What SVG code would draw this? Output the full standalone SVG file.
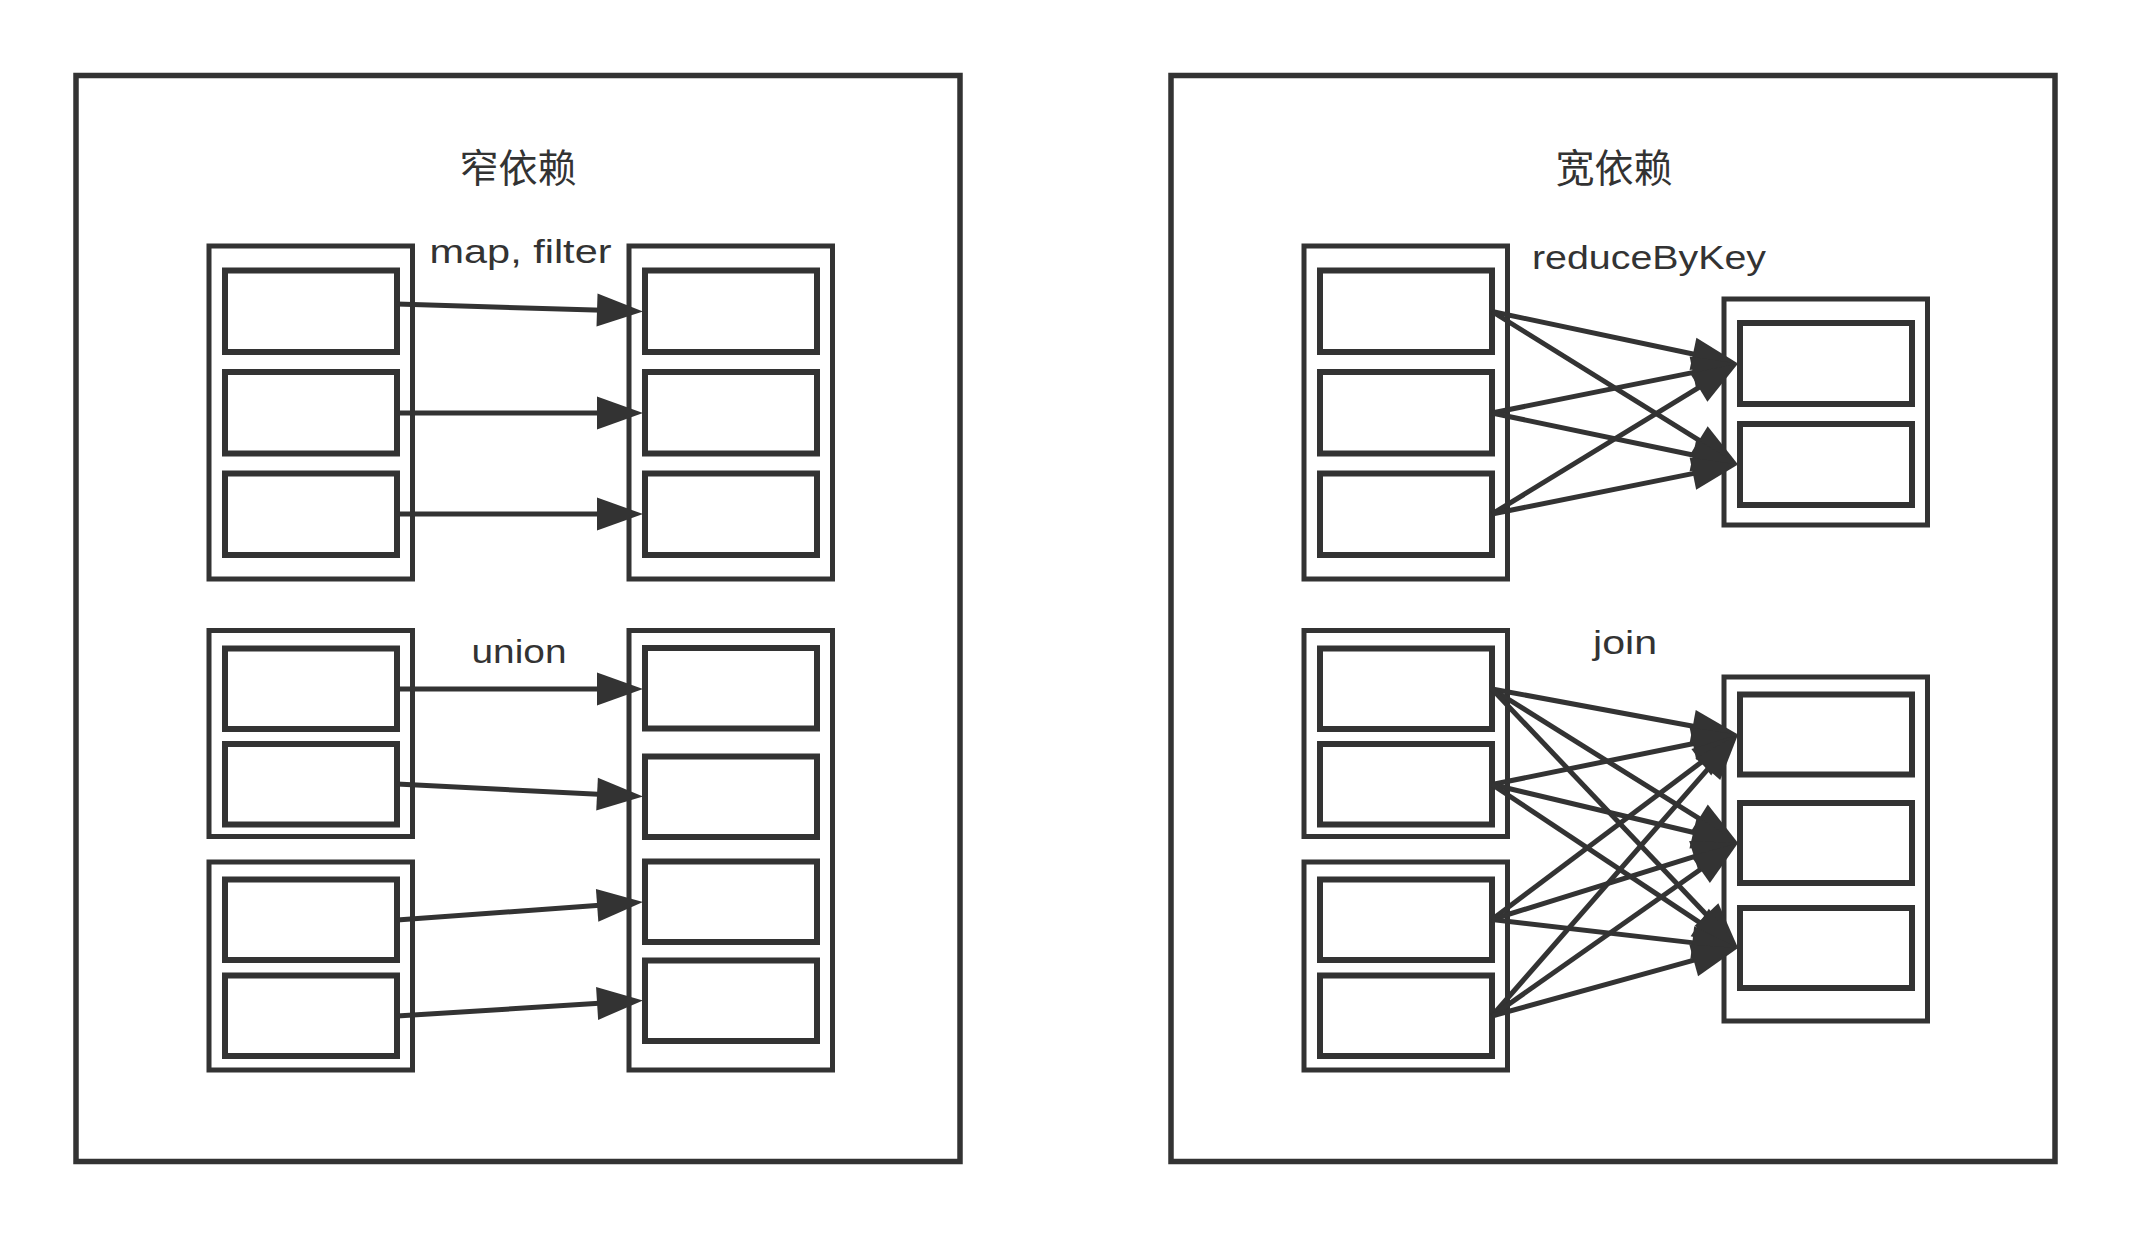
<svg xmlns="http://www.w3.org/2000/svg" width="2130" height="1236" viewBox="0 0 2130 1236">
  <style>
    .panel { fill: #ffffff; stroke: #333333; stroke-width: 5.5; }
    .cont { fill: #ffffff; stroke: #333333; stroke-width: 5; }
    .part { fill: #ffffff; stroke: #333333; stroke-width: 6; }
    .edge { fill: none; stroke: #333333; stroke-width: 5; marker-end: url(#arr); }
    .title { font-family: "Noto Sans CJK SC", "Noto Sans", sans-serif; font-size: 39px; fill: #333333; text-anchor: middle; }
    .lbl { font-family: "Liberation Sans", Arial, sans-serif; font-size: 33px; fill: #333333; text-anchor: middle; }
  </style>
  <defs>
    <marker id="arr" markerUnits="userSpaceOnUse" markerWidth="46" markerHeight="33" refX="6" refY="16.5" orient="auto" overflow="visible">
      <path d="M0,0 L46,16.5 L0,33 Z" fill="#333333"/>
    </marker>
  </defs>
  <rect x="0" y="0" width="2130" height="1236" fill="#ffffff"/>

  <g id="panel-narrow">
    <rect class="panel" x="76" y="75.5" width="884" height="1086"/>
    <text class="title" x="518" y="182">窄依赖</text>
  </g>
  <g id="panel-wide">
    <rect class="panel" x="1171" y="75.5" width="884" height="1086"/>
    <text class="title" x="1614" y="182">宽依赖</text>
  </g>

  <!-- narrow: map, filter -->
  <g id="map-src">
    <rect class="cont" x="209" y="246" width="203.5" height="333"/>
    <rect class="part" x="225" y="270.5" width="172" height="81.5"/>
    <rect class="part" x="225" y="372" width="172" height="81.5"/>
    <rect class="part" x="225" y="473.5" width="172" height="81.5"/>
  </g>
  <g id="map-dst">
    <rect class="cont" x="629" y="246" width="203.5" height="333"/>
    <rect class="part" x="645" y="270.5" width="172" height="81.5"/>
    <rect class="part" x="645" y="372" width="172" height="81.5"/>
    <rect class="part" x="645" y="473.5" width="172" height="81.5"/>
  </g>

  <!-- narrow: union -->
  <g id="union-src1">
    <rect class="cont" x="209" y="630.5" width="203.5" height="206"/>
    <rect class="part" x="225" y="648.5" width="172" height="80.5"/>
    <rect class="part" x="225" y="744" width="172" height="80.5"/>
  </g>
  <g id="union-src2">
    <rect class="cont" x="209" y="862" width="203.5" height="208"/>
    <rect class="part" x="225" y="879.5" width="172" height="80.5"/>
    <rect class="part" x="225" y="975.5" width="172" height="80.5"/>
  </g>
  <g id="union-dst">
    <rect class="cont" x="629" y="630.5" width="203.5" height="439.5"/>
    <rect class="part" x="645" y="648" width="172" height="80.5"/>
    <rect class="part" x="645" y="756.5" width="172" height="80.5"/>
    <rect class="part" x="645" y="861.5" width="172" height="80.5"/>
    <rect class="part" x="645" y="960.5" width="172" height="80.5"/>
  </g>

  <!-- wide: reduceByKey -->
  <g id="reduce-src">
    <rect class="cont" x="1304" y="246" width="203.5" height="333"/>
    <rect class="part" x="1320" y="270.5" width="172" height="81.5"/>
    <rect class="part" x="1320" y="372" width="172" height="81.5"/>
    <rect class="part" x="1320" y="473.5" width="172" height="81.5"/>
  </g>
  <g id="reduce-dst">
    <rect class="cont" x="1724" y="299" width="203.5" height="226"/>
    <rect class="part" x="1740" y="323" width="172" height="81"/>
    <rect class="part" x="1740" y="424" width="172" height="81"/>
  </g>

  <!-- wide: join -->
  <g id="join-src1">
    <rect class="cont" x="1304" y="630.5" width="203.5" height="206"/>
    <rect class="part" x="1320" y="648.5" width="172" height="80.5"/>
    <rect class="part" x="1320" y="744" width="172" height="80.5"/>
  </g>
  <g id="join-src2">
    <rect class="cont" x="1304" y="862" width="203.5" height="208"/>
    <rect class="part" x="1320" y="879.5" width="172" height="80.5"/>
    <rect class="part" x="1320" y="975.5" width="172" height="80.5"/>
  </g>
  <g id="join-dst">
    <rect class="cont" x="1724" y="677" width="203.5" height="344"/>
    <rect class="part" x="1740" y="694.5" width="172" height="80"/>
    <rect class="part" x="1740" y="803" width="172" height="80"/>
    <rect class="part" x="1740" y="908" width="172" height="80"/>
  </g>

  <g id="connectors">
    <!-- map, filter -->
    <line class="edge" x1="397" y1="304" x2="603.02" y2="310.27"/>
    <line class="edge" x1="397" y1="413" x2="603" y2="413"/>
    <line class="edge" x1="397" y1="514" x2="603" y2="514"/>
    <!-- union -->
    <line class="edge" x1="397" y1="689" x2="603" y2="689"/>
    <line class="edge" x1="397" y1="784" x2="603.05" y2="794.45"/>
    <line class="edge" x1="397" y1="920" x2="603.11" y2="904.94"/>
    <line class="edge" x1="397" y1="1016" x2="603.08" y2="1003.04"/>
    <!-- reduceByKey -->
    <line class="edge" x1="1492" y1="311.5" x2="1698.87" y2="355.2"/>
    <line class="edge" x1="1492" y1="311.5" x2="1704.07" y2="443.31"/>
    <line class="edge" x1="1492" y1="413" x2="1698.79" y2="371.42"/>
    <line class="edge" x1="1492" y1="413" x2="1698.86" y2="456.27"/>
    <line class="edge" x1="1492" y1="514" x2="1703.92" y2="384.44"/>
    <line class="edge" x1="1492" y1="514" x2="1698.79" y2="472.42"/>
    <!-- join -->
    <line class="edge" x1="1492" y1="689" x2="1698.67" y2="727.2"/>
    <line class="edge" x1="1492" y1="689" x2="1704.13" y2="821.71"/>
    <line class="edge" x1="1492" y1="689" x2="1710.51" y2="918.94"/>
    <line class="edge" x1="1492" y1="784.5" x2="1698.81" y2="742.5"/>
    <line class="edge" x1="1492" y1="784.5" x2="1699.09" y2="833.71"/>
    <line class="edge" x1="1492" y1="784.5" x2="1704.73" y2="925.8"/>
    <line class="edge" x1="1492" y1="919.5" x2="1706.08" y2="758.6"/>
    <line class="edge" x1="1492" y1="919.5" x2="1699.82" y2="854.92"/>
    <line class="edge" x1="1492" y1="919.5" x2="1698.27" y2="943.38"/>
    <line class="edge" x1="1492" y1="1016" x2="1711.74" y2="764.67"/>
    <line class="edge" x1="1492" y1="1016" x2="1705.32" y2="866.07"/>
    <line class="edge" x1="1492" y1="1016" x2="1699.46" y2="958.7"/>
  </g>

  <g id="labels">
    <text class="lbl" x="520.5" y="262.5" textLength="182" lengthAdjust="spacingAndGlyphs">map, filter</text>
    <text class="lbl" x="519" y="663" textLength="95" lengthAdjust="spacingAndGlyphs">union</text>
    <text class="lbl" x="1649" y="268.5" textLength="234" lengthAdjust="spacingAndGlyphs">reduceByKey</text>
    <text class="lbl" x="1625" y="653.5" textLength="64" lengthAdjust="spacingAndGlyphs">join</text>
  </g>
</svg>
